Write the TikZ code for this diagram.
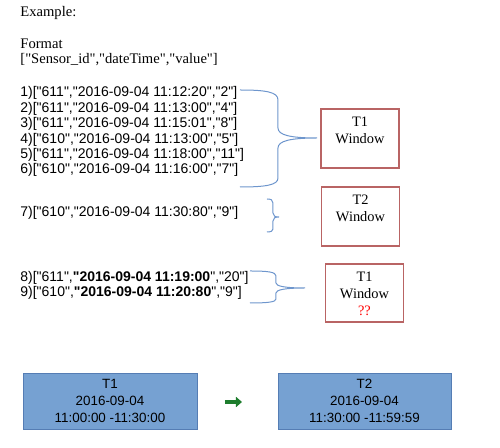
\documentclass[tikz,border=0pt]{standalone}
\usepackage{fontspec}
\setmainfont{Liberation Serif}[Ligatures=TeXOff]
\setsansfont{Liberation Sans}[Ligatures=TeXOff]
\usepackage{tikz}
\usetikzlibrary{arrows.meta, positioning}
\usepackage{xcolor}
\definecolor{bracblue}{RGB}{110,150,205}
\definecolor{winred}{RGB}{185,100,100}
\definecolor{slotblue}{RGB}{118,161,210}
\definecolor{slotedge}{RGB}{85,125,180}
\definecolor{arrgreen}{RGB}{30,125,45}

\begin{document}
\begin{tikzpicture}[x=0.5pt, y=-0.5pt,
        serif/.style={font=\fontsize{7.3}{8.5}\selectfont, anchor=base west, inner sep=0pt},
        rec/.style={font=\sffamily\fontsize{7}{8}\selectfont, anchor=base west, inner sep=0pt},
        winbox/.style={draw=winred, line width=0.6pt, minimum width=39pt, minimum height=29.5pt, inner sep=0pt},
        wintext/.style={font=\fontsize{7.2}{8.5}\selectfont, align=center, inner sep=0pt},
        slotbox/.style={draw=slotedge, fill=slotblue, line width=0.4pt, inner sep=0pt, align=center,
            font=\sffamily\fontsize{6.7}{8.5}\selectfont},
        brac/.style={draw=bracblue, line width=0.5pt}]
        \useasboundingbox (0,0) rectangle (500,448);

        % --- En-tete ---
        \node[serif] (ex) at (20,17) {Example:};
        \node[serif] (fmt) at (20,49) {Format};
        \node[serif] (fmtline) at (20,64) {["Sensor\_id","dateTime","value"]};

        % --- Enregistrements ---
        \node[rec] (r1) at (20,97) {1)["611","2016-09-04 11:12:20","2"]};
        \node[rec] (r2) at (20,112.4) {2)["611","2016-09-04 11:13:00","4"]};
        \node[rec] (r3) at (20,127.8) {3)["611","2016-09-04 11:15:01","8"]};
        \node[rec] (r4) at (20,143.2) {4)["610","2016-09-04 11:13:00","5"]};
        \node[rec] (r5) at (20,158.6) {5)["611","2016-09-04 11:18:00","11"]};
        \node[rec] (r6) at (20,174) {6)["610","2016-09-04 11:16:00","7"]};
        \node[rec] (r7) at (20,217) {7)["610","2016-09-04 11:30:80","9"]};
        \node[rec] (r8) at (20,282) {8)["611",\textbf{"2016-09-04 11:19:00}","20"]};
        \node[rec] (r9) at (20,297) {9)["610",\textbf{"2016-09-04 11:20:80}","9"]};

        % --- Accolades ---
        \path[brac] (240,90) .. controls (266,90) and (278,92) .. (278,100) -- (278,128)
            .. controls (278,135) and (290,138) .. (317,138)
            .. controls (290,138) and (278,141) .. (278,148) -- (278,178)
            .. controls (278,185) and (266,187) .. (240,187);
        \path[brac] (267,199) .. controls (271,199) and (273,200) .. (273,203) -- (273,213)
            .. controls (273,216) and (275,217) .. (279,217)
            .. controls (275,217) and (273,218) .. (273,221) -- (273,229)
            .. controls (273,231) and (271,232) .. (267,232);
        \path[brac] (250,271) .. controls (268,271) and (276,272) .. (276,276) -- (276,283)
            .. controls (276,286) and (284,288) .. (305,288)
            .. controls (284,288) and (276,290) .. (276,293) -- (276,299)
            .. controls (276,302) and (268,303) .. (250,303);

        % --- Fenetres ---
        \node[winbox] (w1) at (360,138.5) {};
        \node[wintext, below=4pt of w1.north] (w1t) {T1\\Window};
        \node[winbox] (w2) at (360.5,216.5) {};
        \node[wintext, below=4pt of w2.north] (w2t) {T2\\Window};
        \node[winbox, minimum height=29pt] (w3) at (364.5,293) {};
        \node[wintext, below=4pt of w3.north] (w3t) {T1\\Window\\\textcolor{red}{??}};

        % --- Creneaux ---
        \node[slotbox, minimum width=87pt, minimum height=28pt] (s1) at (110,401)
            {T1\\2016-09-04\\11:00:00 -11:30:00};
        \node[slotbox, minimum width=86.5pt, minimum height=28pt] (s2) at (364.5,401)
            {T2\\2016-09-04\\11:30:00 -11:59:59};
        \coordinate (ga) at (225,402);
        \coordinate (gb) at (242,402);
        \draw[arrgreen, line width=2pt, -{Triangle[length=3pt, width=5pt]}] (ga) -- (gb);
    \end{tikzpicture}
\end{document}
